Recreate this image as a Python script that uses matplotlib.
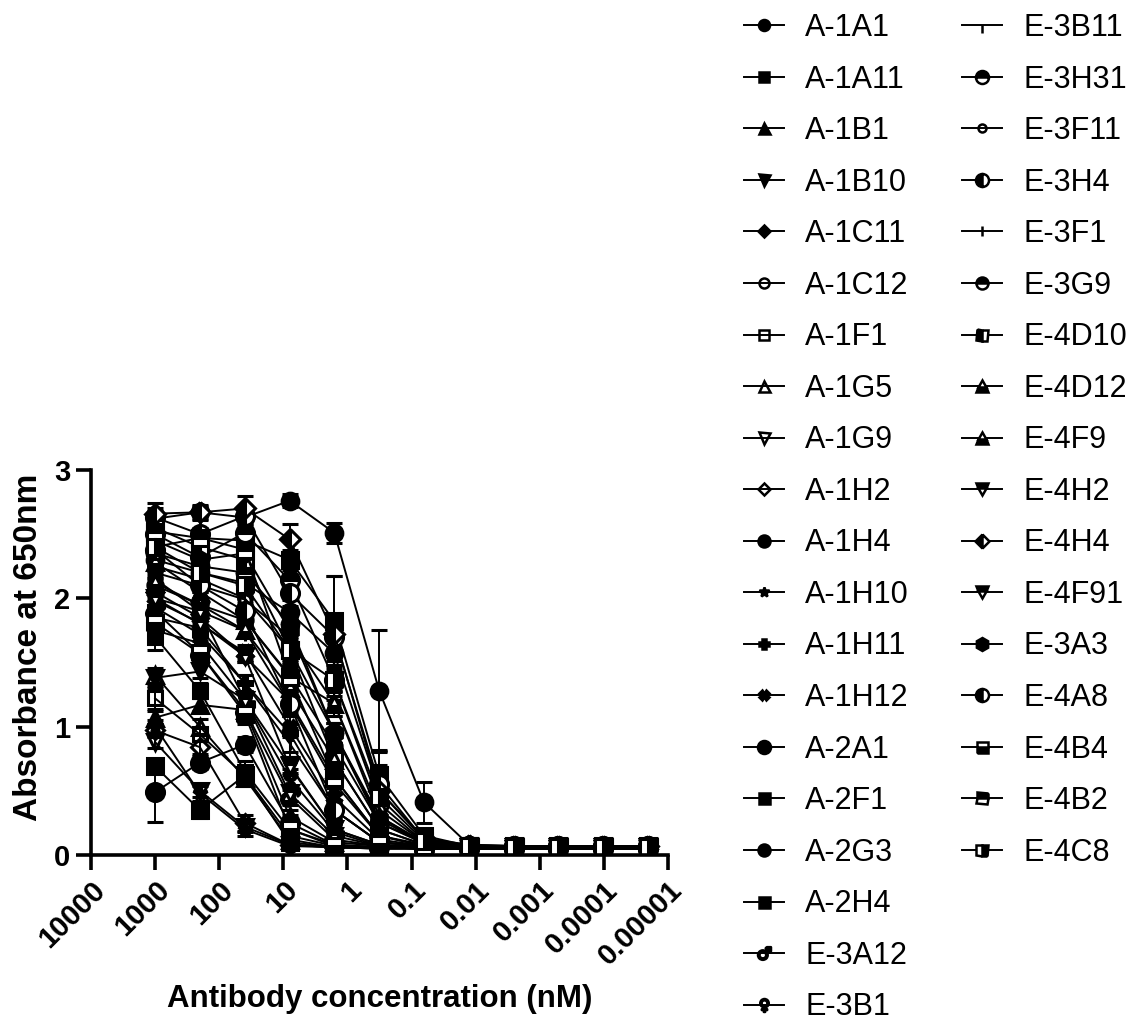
import numpy as np
import matplotlib
matplotlib.use('Agg')
from matplotlib import pyplot as plt
from matplotlib.lines import Line2D

plt.rcParams['font.family'] = ['Liberation Sans', 'DejaVu Sans']

# 5-fold dilution series (nM)
conc = [1000, 200, 40, 8, 1.6, 0.32, 0.064, 0.0128, 0.00256, 0.000512, 0.0001024, 0.00002048]
xtick_vals = [1e4, 1e3, 1e2, 1e1, 1, 1e-1, 1e-2, 1e-3, 1e-4, 1e-5]
xtick_labels = ['10000', '1000', '100', '10', '1', '0.1', '0.01', '0.001', '0.0001', '0.00001']

names = ['A-1A1', 'A-1A11', 'A-1B1', 'A-1B10', 'A-1C11', 'A-1C12', 'A-1F1', 'A-1G5',
         'A-1G9', 'A-1H2', 'A-1H4', 'A-1H10', 'A-1H11', 'A-1H12', 'A-2A1', 'A-2F1',
         'A-2G3', 'A-2H4', 'E-3A12', 'E-3B1',
         'E-3B11', 'E-3H31', 'E-3F11', 'E-3H4', 'E-3F1', 'E-3G9', 'E-4D10', 'E-4D12',
         'E-4F9', 'E-4H2', 'E-4H4', 'E-4F91', 'E-3A3', 'E-4A8', 'E-4B4', 'E-4B2', 'E-4C8']

# mean absorbance at 650nm, one list per clone
means = [
    [2.10, 1.95, 1.83, 1.40, 0.85, 0.25, 0.10, 0.07, 0.06, 0.06, 0.06, 0.06],
    [1.70, 1.28, 0.65, 0.20, 0.08, 0.06, 0.05, 0.05, 0.05, 0.05, 0.05, 0.05],
    [1.07, 1.17, 1.13, 0.30, 0.10, 0.07, 0.06, 0.06, 0.05, 0.05, 0.05, 0.05],
    [1.38, 1.43, 1.21, 0.70, 0.20, 0.08, 0.06, 0.06, 0.05, 0.05, 0.05, 0.06],
    [2.05, 1.85, 1.55, 1.20, 0.60, 0.15, 0.08, 0.06, 0.06, 0.06, 0.06, 0.06],
    [2.25, 2.15, 2.00, 1.60, 0.95, 0.30, 0.10, 0.07, 0.06, 0.06, 0.06, 0.06],
    [1.22, 0.94, 0.62, 0.15, 0.07, 0.06, 0.06, 0.05, 0.05, 0.05, 0.05, 0.05],
    [1.40, 1.00, 0.60, 0.12, 0.06, 0.06, 0.05, 0.05, 0.05, 0.05, 0.05, 0.05],
    [0.88, 0.50, 0.22, 0.08, 0.06, 0.05, 0.05, 0.05, 0.05, 0.05, 0.05, 0.05],
    [0.97, 0.84, 0.25, 0.08, 0.06, 0.06, 0.05, 0.05, 0.05, 0.05, 0.05, 0.05],
    [2.30, 2.20, 2.12, 1.89, 1.57, 0.50, 0.12, 0.07, 0.07, 0.06, 0.06, 0.06],
    [1.00, 0.48, 0.20, 0.07, 0.06, 0.05, 0.05, 0.05, 0.05, 0.05, 0.05, 0.05],
    [1.93, 1.72, 1.34, 0.95, 0.35, 0.10, 0.07, 0.06, 0.06, 0.06, 0.06, 0.06],
    [2.00, 1.80, 1.58, 1.00, 0.45, 0.12, 0.07, 0.06, 0.06, 0.06, 0.06, 0.06],
    [0.49, 0.72, 0.86, 0.25, 0.08, 0.06, 0.05, 0.05, 0.05, 0.05, 0.05, 0.05],
    [0.69, 0.35, 0.62, 0.10, 0.06, 0.05, 0.05, 0.05, 0.05, 0.05, 0.05, 0.05],
    [2.62, 2.67, 2.63, 2.76, 2.51, 1.28, 0.41, 0.08, 0.07, 0.07, 0.07, 0.07],
    [2.40, 2.47, 2.45, 2.30, 1.82, 0.62, 0.15, 0.07, 0.07, 0.07, 0.07, 0.07],
    [1.90, 1.57, 1.13, 0.45, 0.12, 0.07, 0.06, 0.06, 0.06, 0.06, 0.06, 0.06],
    [1.75, 1.65, 1.21, 0.60, 0.18, 0.07, 0.06, 0.06, 0.06, 0.06, 0.06, 0.06],
    [2.15, 1.90, 1.75, 1.18, 0.56, 0.15, 0.07, 0.06, 0.06, 0.06, 0.06, 0.06],
    [2.50, 2.32, 2.51, 2.14, 1.36, 0.40, 0.10, 0.07, 0.07, 0.07, 0.07, 0.07],
    [2.20, 2.10, 1.99, 1.70, 1.18, 0.35, 0.10, 0.07, 0.06, 0.06, 0.06, 0.06],
    [2.63, 2.50, 2.64, 2.04, 1.70, 0.55, 0.12, 0.07, 0.07, 0.07, 0.07, 0.07],
    [1.85, 1.77, 1.34, 0.87, 0.35, 0.10, 0.06, 0.06, 0.06, 0.06, 0.06, 0.06],
    [2.35, 2.25, 2.20, 1.80, 0.95, 0.25, 0.09, 0.07, 0.06, 0.06, 0.06, 0.06],
    [2.55, 2.40, 2.30, 1.60, 0.74, 0.20, 0.08, 0.07, 0.06, 0.06, 0.06, 0.06],
    [2.28, 2.05, 1.83, 1.39, 1.18, 0.30, 0.09, 0.07, 0.06, 0.06, 0.06, 0.06],
    [2.12, 1.95, 1.75, 1.30, 0.74, 0.20, 0.08, 0.07, 0.06, 0.06, 0.06, 0.06],
    [1.98, 1.81, 1.55, 0.69, 0.20, 0.08, 0.06, 0.06, 0.06, 0.06, 0.06, 0.06],
    [2.66, 2.67, 2.70, 2.46, 1.72, 0.50, 0.13, 0.08, 0.07, 0.07, 0.07, 0.07],
    [2.00, 1.90, 1.21, 0.48, 0.15, 0.07, 0.06, 0.06, 0.06, 0.06, 0.06, 0.06],
    [2.45, 2.30, 2.35, 1.75, 0.95, 0.28, 0.09, 0.07, 0.06, 0.06, 0.06, 0.06],
    [2.38, 2.10, 1.90, 1.18, 0.35, 0.10, 0.07, 0.06, 0.06, 0.06, 0.06, 0.06],
    [1.81, 1.57, 1.10, 0.20, 0.07, 0.06, 0.05, 0.05, 0.05, 0.05, 0.05, 0.05],
    [2.52, 2.47, 2.38, 1.39, 0.60, 0.15, 0.07, 0.06, 0.06, 0.06, 0.06, 0.06],
    [2.40, 2.20, 2.10, 1.60, 1.36, 0.45, 0.11, 0.07, 0.06, 0.06, 0.06, 0.06],
]

# SD of replicates
sds = [
    [0.05, 0.04, 0.06, 0.08, 0.10, 0.05, 0.02, 0.01, 0.01, 0.01, 0.01, 0.01],
    [0.10, 0.06, 0.08, 0.05, 0.02, 0.01, 0.01, 0.01, 0.01, 0.01, 0.01, 0.01],
    [0.05, 0.05, 0.06, 0.05, 0.02, 0.01, 0.01, 0.01, 0.01, 0.01, 0.01, 0.01],
    [0.06, 0.05, 0.05, 0.06, 0.04, 0.01, 0.01, 0.01, 0.01, 0.01, 0.01, 0.01],
    [0.05, 0.05, 0.05, 0.08, 0.06, 0.03, 0.01, 0.01, 0.01, 0.01, 0.01, 0.01],
    [0.04, 0.04, 0.05, 0.06, 0.08, 0.05, 0.02, 0.01, 0.01, 0.01, 0.01, 0.01],
    [0.08, 0.05, 0.05, 0.04, 0.02, 0.01, 0.01, 0.01, 0.01, 0.01, 0.01, 0.01],
    [0.06, 0.06, 0.05, 0.04, 0.01, 0.01, 0.01, 0.01, 0.01, 0.01, 0.01, 0.01],
    [0.05, 0.05, 0.04, 0.02, 0.01, 0.01, 0.01, 0.01, 0.01, 0.01, 0.01, 0.01],
    [0.05, 0.05, 0.06, 0.02, 0.01, 0.01, 0.01, 0.01, 0.01, 0.01, 0.01, 0.01],
    [0.04, 0.05, 0.06, 0.10, 0.12, 0.08, 0.03, 0.01, 0.01, 0.01, 0.01, 0.01],
    [0.05, 0.06, 0.05, 0.02, 0.01, 0.01, 0.01, 0.01, 0.01, 0.01, 0.01, 0.01],
    [0.05, 0.05, 0.06, 0.15, 0.08, 0.03, 0.01, 0.01, 0.01, 0.01, 0.01, 0.01],
    [0.05, 0.05, 0.06, 0.08, 0.07, 0.03, 0.01, 0.01, 0.01, 0.01, 0.01, 0.01],
    [0.23, 0.05, 0.06, 0.06, 0.02, 0.01, 0.01, 0.01, 0.01, 0.01, 0.01, 0.01],
    [0.05, 0.06, 0.08, 0.03, 0.01, 0.01, 0.01, 0.01, 0.01, 0.01, 0.01, 0.01],
    [0.08, 0.06, 0.08, 0.05, 0.08, 0.47, 0.16, 0.02, 0.01, 0.01, 0.01, 0.01],
    [0.05, 0.05, 0.06, 0.08, 0.35, 0.20, 0.05, 0.01, 0.01, 0.01, 0.01, 0.01],
    [0.05, 0.05, 0.06, 0.06, 0.03, 0.01, 0.01, 0.01, 0.01, 0.01, 0.01, 0.01],
    [0.05, 0.05, 0.05, 0.07, 0.04, 0.01, 0.01, 0.01, 0.01, 0.01, 0.01, 0.01],
    [0.05, 0.05, 0.05, 0.10, 0.08, 0.03, 0.01, 0.01, 0.01, 0.01, 0.01, 0.01],
    [0.05, 0.06, 0.06, 0.12, 0.15, 0.08, 0.02, 0.01, 0.01, 0.01, 0.01, 0.01],
    [0.04, 0.05, 0.05, 0.08, 0.10, 0.06, 0.02, 0.01, 0.01, 0.01, 0.01, 0.01],
    [0.05, 0.05, 0.06, 0.10, 0.12, 0.15, 0.03, 0.01, 0.01, 0.01, 0.01, 0.01],
    [0.05, 0.05, 0.06, 0.12, 0.06, 0.02, 0.01, 0.01, 0.01, 0.01, 0.01, 0.01],
    [0.05, 0.05, 0.05, 0.08, 0.08, 0.05, 0.02, 0.01, 0.01, 0.01, 0.01, 0.01],
    [0.05, 0.05, 0.05, 0.08, 0.08, 0.05, 0.02, 0.01, 0.01, 0.01, 0.01, 0.01],
    [0.05, 0.05, 0.05, 0.08, 0.10, 0.06, 0.02, 0.01, 0.01, 0.01, 0.01, 0.01],
    [0.05, 0.05, 0.05, 0.08, 0.08, 0.05, 0.02, 0.01, 0.01, 0.01, 0.01, 0.01],
    [0.05, 0.05, 0.05, 0.07, 0.04, 0.01, 0.01, 0.01, 0.01, 0.01, 0.01, 0.01],
    [0.08, 0.05, 0.10, 0.12, 0.45, 0.30, 0.04, 0.01, 0.01, 0.01, 0.01, 0.01],
    [0.05, 0.05, 0.06, 0.06, 0.03, 0.01, 0.01, 0.01, 0.01, 0.01, 0.01, 0.01],
    [0.05, 0.05, 0.06, 0.10, 0.08, 0.05, 0.02, 0.01, 0.01, 0.01, 0.01, 0.01],
    [0.05, 0.05, 0.06, 0.10, 0.06, 0.02, 0.01, 0.01, 0.01, 0.01, 0.01, 0.01],
    [0.05, 0.05, 0.08, 0.05, 0.01, 0.01, 0.01, 0.01, 0.01, 0.01, 0.01, 0.01],
    [0.05, 0.05, 0.05, 0.10, 0.08, 0.05, 0.02, 0.01, 0.01, 0.01, 0.01, 0.01],
    [0.05, 0.05, 0.05, 0.10, 0.12, 0.06, 0.02, 0.01, 0.01, 0.01, 0.01, 0.01],
]

# marker style per clone: (marker, fillstyle, size)
styles = [('o', 'full', 11), ('s', 'full', 10), ('^', 'full', 11), ('v', 'full', 11),
          ('D', 'full', 8), ('o', 'none', 10), ('s', 'none', 10), ('^', 'none', 11),
          ('v', 'none', 11), ('D', 'none', 9), ('o', 'full', 12), ('*', 'full', 11),
          ('P', 'full', 10), ('X', 'full', 10), ('o', 'full', 13), ('s', 'full', 11),
          ('o', 'full', 12), ('s', 'full', 11), ('$\u2642$', 'full', 13), ('$\u2640$', 'full', 13),
          (3, 'full', 8), ('o', 'top', 13), ('o', 'none', 8), ('o', 'left', 13),
          ('|', 'full', 10), ('o', 'top', 12), ('s', 'left', 11), ('^', 'bottom', 12),
          ('^', 'bottom', 12), ('v', 'top', 12), ('D', 'left', 10), ('v', 'top', 12),
          ('h', 'full', 13), ('o', 'left', 13), ('s', 'bottom', 11), ('s', 'top', 11),
          ('s', 'right', 11)]

fig = plt.figure(figsize=(11.39, 10.21), dpi=100)
ax = fig.add_axes([0.0799, 0.1626, 0.5066, 0.3771])

handles = []
for name, y, e, (m, fs, ms) in zip(names, means, sds, styles):
    ax.errorbar(conc, y, yerr=e, color='black', lw=1.4, elinewidth=1.4,
                capsize=6, capthick=1.4, marker=m, ms=ms, fillstyle=fs,
                mfc='black', mfcalt='white', mec='black', mew=2.2, zorder=2)
    handles.append(Line2D([], [], color='black', lw=1.4, marker=m, ms=ms * 0.72,
                          fillstyle=fs, mfc='black', mfcalt='white', mec='black',
                          mew=1.8, label=name))

ax.set_xscale('log')
ax.set_xlim(1e4, 1e-5)
ax.set_ylim(0, 3)
ax.set_xticks(xtick_vals)
ax.set_xticklabels(xtick_labels, rotation=45, ha='right', rotation_mode='anchor')
ax.minorticks_off()
ax.set_yticks([0, 1, 2, 3])

for lab in ax.get_xticklabels() + ax.get_yticklabels():
    lab.set_fontweight('bold')
    lab.set_fontsize(21)

ax.spines['top'].set_visible(False)
ax.spines['right'].set_visible(False)
ax.spines['left'].set_linewidth(2.6)
ax.spines['bottom'].set_linewidth(2.6)
ax.tick_params(axis='both', which='major', length=11, width=2.6, direction='out', pad=4)
ax.spines['bottom'].set_zorder(5)

ax.set_xlabel('Antibody concentration (nM)', fontsize=22.5, fontweight='bold', labelpad=10)
ax.set_ylabel('Absorbance at 650nm', fontsize=24, fontweight='bold')
ax.yaxis.set_label_coords(-0.082, 0.54)

legend_kw = dict(frameon=False, fontsize=22, handlelength=1.3, handletextpad=0.7,
                 labelspacing=0.705, borderaxespad=0, borderpad=0)
leg1 = fig.legend(handles=handles[:20], loc='upper left',
                  bbox_to_anchor=(744 / 1139, 1 - 13 / 1021), **legend_kw)
leg2 = fig.legend(handles=handles[20:], loc='upper left',
                  bbox_to_anchor=(962 / 1139, 1 - 13 / 1021), **legend_kw)

fig.savefig('out.png', dpi=100)
